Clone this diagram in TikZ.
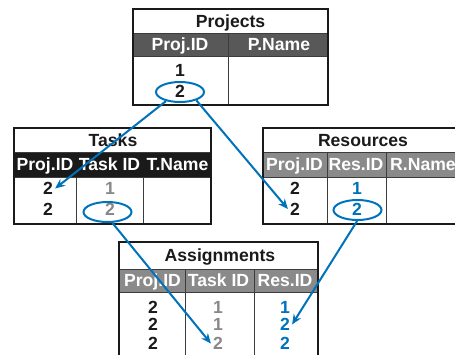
\documentclass[tikz,border=0pt]{standalone}
\usepackage{fontspec}
\setmainfont{Liberation Sans}
\usetikzlibrary{arrows.meta,shapes.geometric}
\definecolor{linkblue}{RGB}{0,114,188}
\definecolor{hdrdark}{RGB}{88,88,88}
\definecolor{hdrblack}{RGB}{26,26,26}
\definecolor{hdrgray}{RGB}{138,138,138}
\definecolor{idgray}{RGB}{136,136,136}
\definecolor{ink}{RGB}{26,26,26}

\begin{document}
\begin{tikzpicture}[x=1pt,y=-1pt,
  every node/.style={font=\fontsize{17.6}{20}\selectfont\bfseries, inner sep=2pt,
    text height=12.6pt, text depth=0pt},
  frame/.style={draw=ink, line width=1.3pt},
  grid/.style={draw=ink!85, line width=1pt},
  title/.style={text=ink},
  head/.style={text=white},
  val/.style={text=ink},
  tid/.style={text=idgray},
  rid/.style={text=linkblue},
  oval/.style={ellipse, draw=linkblue, line width=2pt, minimum width=48pt,
    minimum height=20pt, inner sep=0pt, text height=0pt, text depth=0pt},
  link/.style={draw=linkblue, line width=2pt, -{Stealth[length=10pt,width=8.5pt]}}
]
\clip (0,0) rectangle (455,354);

% ---------- Projects ----------
\fill[hdrdark] (133,33) rectangle (328,56);
\draw[grid] (228,33) -- (228,105);
\draw[grid] (133,33) -- (328,33) (133,56) -- (328,56);
\draw[frame] (133,9) rectangle (328,105);
\node[title] (pt) at (230.5,21) {Projects};
\node[head] (ph1) at (180,44.5) {Proj.ID};
\node[head] (ph2) at (279,44.5) {P.Name};
\node[val] (p1) at (180,70) {1};
\node[val] (p2) at (180,91) {2};

% ---------- Tasks ----------
\fill[hdrblack] (14,152) rectangle (211,177);
\draw[grid] (76,177) -- (76,224) (143,177) -- (143,224);
\draw[grid] (14,152) -- (211,152) (14,177) -- (211,177);
\draw[frame] (14,128) rectangle (211,224);
\node[title] (tt) at (113,140) {Tasks};
\node[head] (th1) at (45,164.5) {Proj.ID};
\node[head] (th2) at (109.5,164.5) {Task ID};
\node[head] (th3) at (177.5,164.5) {T.Name};
\node[val] (t11) at (48,188.5) {2};
\node[tid] (t12) at (110,188.5) {1};
\node[val] (t21) at (48,209) {2};
\node[tid] (t22) at (110,209) {2};

% ---------- Resources ----------
\fill[hdrgray] (263,152) rectangle (470,177);
\draw[grid] (327,152) -- (327,224) (386,152) -- (386,224);
\draw[grid] (263,152) -- (470,152) (263,177) -- (470,177);
\draw[frame] (263,128) rectangle (470,224);
\node[title] (rt) at (363,140) {Resources};
\node[head] (rh1) at (294.5,164.5) {Proj.ID};
\node[head] (rh2) at (356,164.5) {Res.ID};
\node[head] (rh3) at (423,164.5) {R.Name};
\node[val] (r11) at (295,188.5) {2};
\node[rid] (r12) at (357,188.5) {1};
\node[val] (r21) at (295,209) {2};
\node[rid] (r22) at (357,209) {2};

% ---------- Assignments ----------
\fill[hdrgray] (119,269) rectangle (318,292);
\draw[grid] (185,269) -- (185,370) (254,269) -- (254,370);
\draw[grid] (119,269) -- (318,269) (119,292) -- (318,292);
\draw[frame] (119,242) rectangle (318,370);
\node[title] (at) at (220,255.5) {Assignments};
\node[head] (ah1) at (152.5,280.5) {Proj.ID};
\node[head] (ah2) at (218.5,280.5) {Task ID};
\node[head] (ah3) at (285,280.5) {Res.ID};
\node[val] (a11) at (153,307) {2};
\node[tid] (a12) at (218,307) {1};
\node[rid] (a13) at (285,307) {1};
\node[val] (a21) at (153,324.5) {2};
\node[tid] (a22) at (218,324.5) {1};
\node[rid] (a23) at (285,324.5) {2};
\node[val] (a31) at (153,343.5) {2};
\node[tid] (a32) at (218,343.5) {2};
\node[rid] (a33) at (285,343.5) {2};

% ---------- key highlights and links ----------
\node[oval] (pe) at (180,92) {};
\node[oval] (te) at (107.5,212) {};
\node[oval] (re) at (357.5,210) {};

\draw[link] (pe.-147) -- (t11.east);
\draw[link] (pe.-27) -- (r21.west);
\draw[link] (te.-66) -- (a32.west);
\draw[link] (re.-92) -- (a23.east);
\end{tikzpicture}
\end{document}
